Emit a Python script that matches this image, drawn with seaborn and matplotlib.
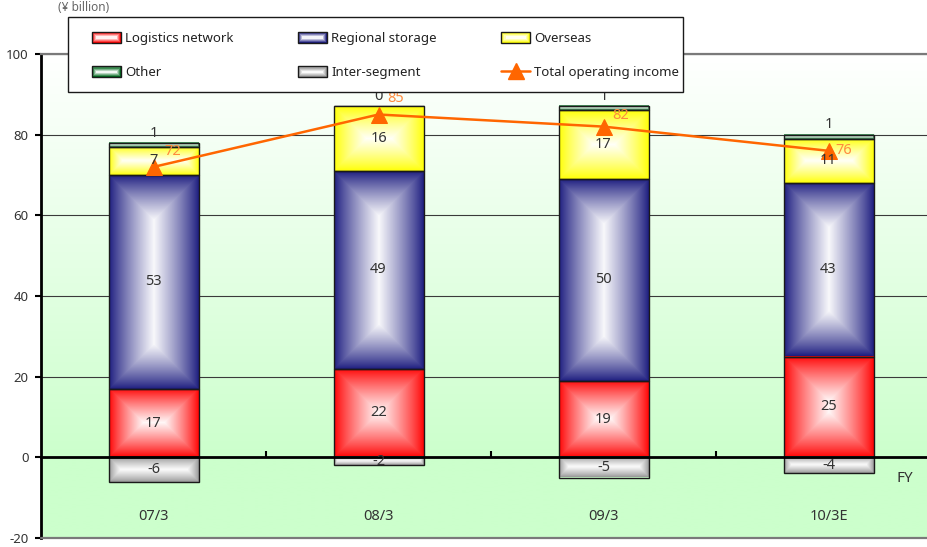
import numpy as np
import pandas as pd
import matplotlib
matplotlib.use("Agg")
import matplotlib.pyplot as plt
import matplotlib.colors as mcolors
from matplotlib.patches import Rectangle, Patch
from matplotlib.lines import Line2D
from matplotlib.legend_handler import HandlerBase
import seaborn as sns

# ---- data (¥ billion) ----
years = ["07/3", "08/3", "09/3", "10/3E"]
logistics = [17, 22, 19, 25]
regional = [53, 49, 50, 43]
overseas = [7, 16, 17, 11]
other = [1, 0, 1, 1]
inter_segment = [-6, -2, -5, -4]
total_income = [72, 85, 82, 76]

segment_names = ["Logistics network", "Regional storage", "Overseas", "Other", "Inter-segment"]
line_name = "Total operating income"
y_ticks = [-20, 0, 20, 40, 60, 80, 100]

# ---- styling ----
seg_colors = {
    "Logistics network": "#FF0000",
    "Regional storage": "#1A1A7E",
    "Overseas": "#FFFF00",
    "Other": "#006A1E",
    "Inter-segment": "#969696",
}
line_color = "#FF6600"
total_label_color = "#FF8A3D"
text_color = "#333333"
# label offsets for the total figures, in pixels (right, up)
total_label_offsets = [(19, 15), (17, 16), (17, 11), (15, 0)]

sns.set_theme(style="white")
plt.rcParams["font.family"] = ["Noto Sans", "Liberation Sans", "DejaVu Sans"]
plt.rcParams["font.stretch"] = "condensed"

W, H = 928, 547
fig = plt.figure(figsize=(W / 100, H / 100), dpi=100)
ax = fig.add_axes([41 / W, 9 / H, 900 / W, 484 / H])
ax.set_xlim(-0.5, 3.5)
ax.set_ylim(-20, 100)

# stacked segments
df = pd.DataFrame({
    "year": years,
    "Logistics network": logistics,
    "Regional storage": regional,
    "Overseas": overseas,
    "Other": other,
    "Inter-segment": inter_segment,
})
stack_bottom = np.zeros(len(years))
segment_patches = {}
for name in segment_names:
    vals = np.asarray(df[name], dtype=float)
    bottom = np.zeros(len(years)) if name == "Inter-segment" else stack_bottom.copy()
    n_before = len(ax.patches)
    sns.barplot(data=df, x="year", y=name, bottom=bottom, color=seg_colors[name],
                width=0.4, errorbar=None, edgecolor="#1a1a1a", linewidth=1.0, ax=ax)
    segment_patches[name] = (list(ax.patches[n_before:]), vals, bottom)
    if name != "Inter-segment":
        stack_bottom = stack_bottom + vals

ax.set_xlim(-0.5, 3.5)
ax.set_ylim(-20, 100)

# pixel scale of the data axes
p0 = ax.transData.transform((0, 0))
p1 = ax.transData.transform((1, 1))
px_x, px_y = p1[0] - p0[0], p1[1] - p0[1]


def shade_bar(patch, color):
    """Fill a bar with a frame-shaped gradient: colour at the edges, white in the middle."""
    x0, y0 = patch.get_x(), patch.get_y()
    w, h = patch.get_width(), patch.get_height()
    if h < 0:
        y0, h = y0 + h, -h
    if h == 0:
        patch.set_facecolor("none")
        return
    nx = max(int(round(w * px_x)), 2)
    ny = max(int(round(h * px_y)), 2)
    i = np.arange(nx) + 0.5
    j = np.arange(ny) + 0.5
    dx = np.minimum(i, nx - i)
    dy = np.minimum(j, ny - j)
    d = np.minimum(dx[None, :], dy[:, None])
    t = np.clip(d / (min(nx, ny) / 2.0), 0, 1) ** 0.85
    base = np.array(mcolors.to_rgb(color))
    img = base[None, None, :] + (1 - base[None, None, :]) * t[..., None] * 0.97
    ax.imshow(img, extent=[x0, x0 + w, y0, y0 + h], origin="lower",
              aspect="auto", interpolation="bilinear", zorder=2)
    patch.set_facecolor("none")
    patch.set_zorder(3)


for name in segment_names:
    patches, vals, bottom = segment_patches[name]
    for p in patches:
        shade_bar(p, seg_colors[name])

# background: white at the top fading to pale green
yy = np.linspace(100, -20, 300)
tb = np.clip((100 - yy) / 100.0, 0, 1)
white = np.array([1.0, 1.0, 1.0])
green = np.array(mcolors.to_rgb("#CCFFCC"))
bg = white[None, :] + (green - white)[None, :] * tb[:, None]
ax.imshow(bg[:, None, :], extent=[-0.5, 3.5, -20, 100], aspect="auto",
          interpolation="bilinear", zorder=0)
ax.patch.set_visible(False)
ax.set_xlim(-0.5, 3.5)
ax.set_ylim(-20, 100)

# total operating income line
line_df = pd.DataFrame({"pos": np.arange(len(years)), "total": total_income})
sns.lineplot(data=line_df, x="pos", y="total", color=line_color, linewidth=1.8,
             marker="^", markersize=11, markeredgecolor=line_color, ax=ax, zorder=6)

# segment value labels
for name in segment_names:
    patches, vals, bottom = segment_patches[name]
    for k, p in enumerate(patches):
        v = vals[k]
        xc = p.get_x() + p.get_width() / 2
        if name == "Other":
            top = bottom[k] + v
            ax.annotate(f"{v:.0f}", (xc, top), xytext=(0, 7), textcoords="offset points",
                        ha="center", va="center", fontsize=10.5, color=text_color, zorder=7)
        else:
            yc = bottom[k] + v / 2
            ax.text(xc, yc, f"{v:.0f}", ha="center", va="center", fontsize=10.5,
                    color=text_color, zorder=7)

for k, v in enumerate(total_income):
    ox, oy = total_label_offsets[k]
    ax.annotate(f"{v}", (k, v), xytext=(ox * 0.72, oy * 0.72), textcoords="offset points",
                ha="center", va="center", fontsize=10.5, color=total_label_color, zorder=7)

# axes, ticks and grid
ax.set_xlabel("")
ax.set_ylabel("")
ax.set_yticks(y_ticks)
ax.set_yticklabels([str(t) for t in y_ticks])
ax.set_xticks(range(len(years)))
ax.set_xticklabels(years)
ax.set_xticks(np.arange(len(years)) + 0.5, minor=True)
ax.spines["bottom"].set_position(("data", 0))
ax.spines["bottom"].set_color("black")
ax.spines["bottom"].set_linewidth(2)
ax.spines["bottom"].set_zorder(5)
ax.spines["left"].set_color("black")
ax.spines["left"].set_linewidth(2)
ax.spines["top"].set_visible(True)
ax.spines["top"].set_color("#7a7a7a")
ax.spines["top"].set_linewidth(1.6)
ax.spines["right"].set_visible(False)
ax.tick_params(axis="x", which="major", length=0, pad=37, labelsize=10.5, labelcolor=text_color)
ax.tick_params(axis="x", which="minor", direction="in", length=4, width=1.5, color="black", bottom=True)
ax.tick_params(axis="y", which="major", direction="out", length=4, width=1.5, color="black",
               left=True, pad=5, labelsize=9.5, labelcolor=text_color)
ax.yaxis.grid(True, color="#3a3a3a", linewidth=0.8)
ax.set_axisbelow(True)
for gl in ax.get_ygridlines():
    gl.set_zorder(1)
ax.plot([0, 1], [0, 0], transform=ax.transAxes, color="#7a7a7a", linewidth=1.6,
        clip_on=False, zorder=5)

ax.text(0.96, 0.123, "FY", transform=ax.transAxes, ha="center", va="center",
        fontsize=11, color=text_color)
fig.text(0.062, 0.999, "(¥ billion)", ha="left", va="top", fontsize=8.5, color="#666666")


# legend with gradient swatches
class GradientSwatch(HandlerBase):
    def create_artists(self, legend, orig_handle, xdescent, ydescent, width, height,
                       fontsize, trans):
        base = np.array(mcolors.to_rgb(orig_handle.get_facecolor()))
        arts = []
        steps = 5
        for s in range(steps):
            inset = s * (height / 2.0) / steps
            t = (s / (steps - 1)) ** 1.0
            col = base + (1 - base) * t * 0.95
            arts.append(Rectangle((-xdescent + inset, -ydescent + inset),
                                  width - 2 * inset, height - 2 * inset,
                                  facecolor=col, edgecolor="none", transform=trans))
        arts.append(Rectangle((-xdescent, -ydescent), width, height, facecolor="none",
                              edgecolor="#1a1a1a", linewidth=1.0, transform=trans))
        return arts


# legend box drawn as a plain frame, entries placed inside it
fig.patches.append(Rectangle((68 / W, 1 - 92 / H), 615 / W, 75 / H, transform=fig.transFigure,
                             facecolor="white", edgecolor="#1a1a1a", linewidth=1.0, zorder=4))

h = {n: Patch(facecolor=seg_colors[n]) for n in segment_names}
h_line = Line2D([], [], color=line_color, linewidth=1.8, marker="^", markersize=11)
order = ["Logistics network", "Other", "Regional storage", "Inter-segment", "Overseas"]
handles = [h[n] for n in order] + [h_line]
labels = order + [line_name]
leg = fig.legend(handles, labels, ncol=3, loc="upper left",
                 bbox_to_anchor=(92 / W, 1 - 32 / H), borderaxespad=0, borderpad=0,
                 frameon=False, fontsize=9.5, handlelength=2.2, handleheight=0.9,
                 handletextpad=0.3, labelspacing=1.62, columnspacing=4.9,
                 handler_map={Patch: GradientSwatch()})
leg.set_zorder(5)
for t in leg.get_texts():
    t.set_color("#222222")

fig.savefig("out.png", dpi=100)
